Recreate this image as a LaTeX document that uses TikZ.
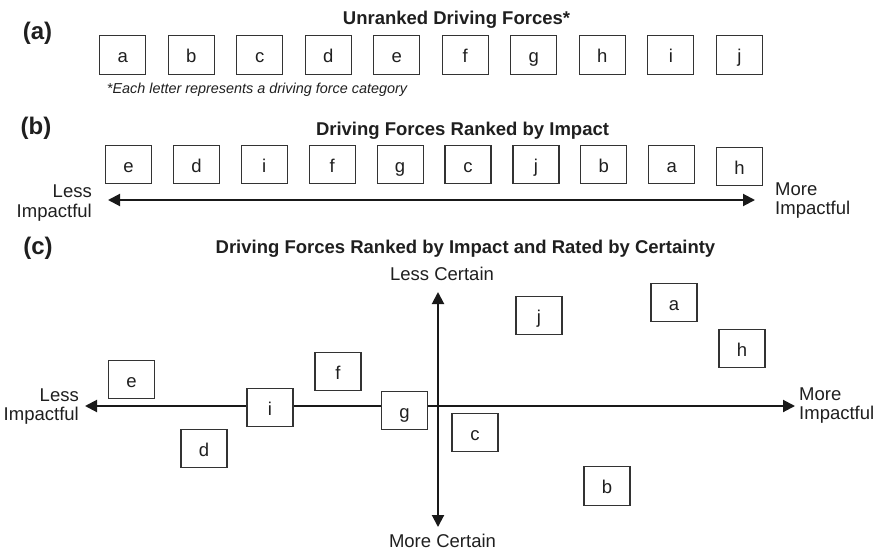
\documentclass[tikz,border=0pt]{standalone}
\usepackage{fontspec}
\setmainfont{Liberation Sans}
\usetikzlibrary{arrows.meta}
\begin{document}
\begin{tikzpicture}[x=1pt,y=-1pt,
  every node/.style={text=black!88},
  forcebox/.style={draw=black!80, line width=1.2pt, fill=white,
    minimum width=46pt, minimum height=38.5pt, inner sep=0pt,
    text height=15pt, text depth=0pt, font=\fontsize{18.5}{20}\selectfont},
  paneltag/.style={font=\bfseries\fontsize{24}{26}\selectfont},
  paneltitle/.style={font=\bfseries\fontsize{18.5}{20}\selectfont, anchor=base},
  axislabel/.style={font=\fontsize{18.5}{19.5}\selectfont, inner sep=0pt},
  axis/.style={line width=2pt, draw=black!90,
    {Triangle[length=12pt,width=12pt]}-{Triangle[length=12pt,width=12pt]}},
]
\useasboundingbox (0,0) rectangle (877,551);

% ---------- (a) unranked ----------
\node[paneltag] (tag-a) at (37.5,33) {(a)};
\node[paneltitle] (title-a) at (456.5,25) {Unranked Driving Forces*};
\foreach \l [count=\k from 0] in {a,b,c,d,e,f,g,h,i,j}
  \node[forcebox] (u-\l) at ({122.8+68.5*\k},55) {\l};
\node[font=\itshape\fontsize{14.4}{16}\selectfont, anchor=base] (note) at (257,93)
  {*Each letter represents a driving force category};

% ---------- (b) ranked by impact ----------
\node[paneltag] (tag-b) at (36,128) {(b)};
\node[paneltitle] (title-b) at (462.5,135) {Driving Forces Ranked by Impact};
\coordinate (b-less) at (108,200);
\coordinate (b-more) at (755,200);
\draw[axis] (b-less) -- (b-more);
\foreach \l [count=\k from 0] in {e,d,i,f,g,c,j,b,a}
  \node[forcebox] (r-\l) at ({128.5+67.9*\k},164.5) {\l};
\node[forcebox] (r-h) at (739.6,166.5) {h};
\node[axislabel, align=right, anchor=east] (b-less-label) at (92,203) {Less\\Impactful};
\node[axislabel, align=left, anchor=west] (b-more-label) at (775,200.5) {More\\Impactful};

% ---------- (c) impact vs certainty ----------
\node[paneltag] (tag-c) at (38,248) {(c)};
\node[paneltitle] (title-c) at (465.5,253) {Driving Forces Ranked by Impact and Rated by Certainty};
\coordinate (c-less) at (85,406);
\coordinate (c-more) at (795,406);
\coordinate (c-up) at (438,292);
\coordinate (c-down) at (438,527);
\draw[axis] (c-less) -- (c-more);
\draw[axis] (c-down) -- (c-up);
\node[axislabel, align=right, anchor=east] (c-less-label) at (79,406.5) {Less\\Impactful};
\node[axislabel, align=left, anchor=west] (c-more-label) at (799,405.5) {More\\Impactful};
\node[axislabel, anchor=base] (c-up-label) at (442,280) {Less Certain};
\node[axislabel, anchor=base] (c-down-label) at (442.5,547) {More Certain};

\node[forcebox] (c-e) at (131.5,379.5) {e};
\node[forcebox] (c-f) at (338,371.5) {f};
\node[forcebox] (c-i) at (270,407.5) {i};
\node[forcebox] (c-g) at (404.5,410.5) {g};
\node[forcebox] (c-d) at (204,448.5) {d};
\node[forcebox] (c-j) at (539,315.5) {j};
\node[forcebox] (c-a) at (674,302.5) {a};
\node[forcebox] (c-h) at (742,348.5) {h};
\node[forcebox] (c-c) at (475,432.5) {c};
\node[forcebox] (c-b) at (607,486) {b};
\end{tikzpicture}
\end{document}
